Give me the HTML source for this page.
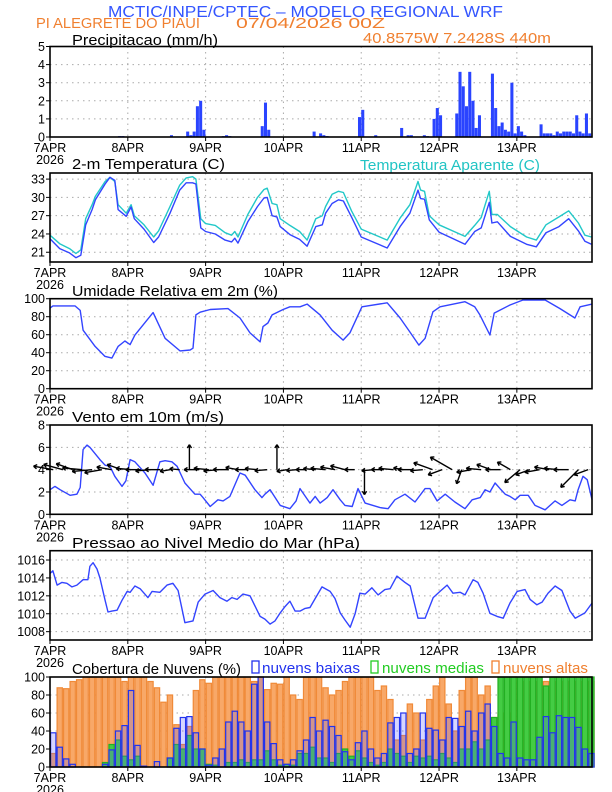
<!DOCTYPE html>
<html><head><meta charset="utf-8"><style>
html,body{margin:0;padding:0;background:#fff;}
svg{display:block;font-family:"Liberation Sans",sans-serif;}
</style></head><body>
<svg id="chart" width="612" height="792" viewBox="0 0 612 792" xmlns="http://www.w3.org/2000/svg">
<text x="108" y="17" font-size="16" fill="#3355ff" textLength="395" lengthAdjust="spacingAndGlyphs">MCTIC/INPE/CPTEC – MODELO REGIONAL WRF</text>
<text x="36" y="28" font-size="15" fill="#f08030" textLength="164" lengthAdjust="spacingAndGlyphs">PI ALEGRETE DO PIAUI</text>
<text x="236" y="28" font-size="15" fill="#f08030" textLength="149" lengthAdjust="spacingAndGlyphs">07/04/2026 00Z</text>
<text x="363" y="43" font-size="15" fill="#f08030" textLength="188" lengthAdjust="spacingAndGlyphs">40.8575W 7.2428S 440m</text>
<g id="plots"></g>
</svg>
<script>
// ---- data ----
const dayLabels = ["7APR","8APR","9APR","10APR","11APR","12APR","13APR"];
const precip = [0,0,0,0,0,0,0,0,0,0,0,0, 0,0,0,0,0,0,0,0,0,0.05,0.05,0, 0,0,0,0,0,0,0,0,0,0,0,0,
0,0.1,0,0,0,0,0.3,0.1,0.3,1.7,2.0,0.4, 0,0,0,0,0,0.05,0.1,0.05,0,0,0,0, 0,0,0,0,0.02,0.6,1.9,0.4,0,0,0,0,
0,0,0,0,0,0,0,0,0,0.3,0,0.2, 0.1,0.05,0,0,0,0,0,0,0,0,0,1.1, 1.5,0,0,0,0.1,0,0,0,0,0,0,0,
0.5,0,0.1,0.1,0,0,0,0.1,0.05,0,1.0,1.6, 1.2,0,0,0,0,1.3,3.6,2.8,1.7,3.6,2.0,0.5, 1.2,0,0,0,3.5,1.6,0.6,0.8,0.4,0.3,3.0,0.2,
0.6,0.3,0.1,0,0,0,0,0.7,0.2,0.2,0.2,0.1, 0.3,0.2,0.3,0.3,0.3,0.2,1.2,0.3,0.2,1.3,0.2,0];
const tempHours = [0,3,6,8,9.5,11,13,14,17,18.5,20,21,23.5,25,26,29,32,33.5,37,40,42,44,45,46.5,48,51,54,56,57,58,61,64,66,67,68.5,70,71,74,77,79.3,82,84,85,87,89,90.5,93,96,104,108,111,113.5,114.3,115.5,117,120,128,131,133,135.5,136.3,138,142,147,150,153,157,160,163,165,167];
const temp2m = [23.2,21.6,20.9,20.1,20.5,25.5,28,29.6,32.2,33.3,32.8,28,26.9,28.4,26.5,24.8,22.6,23.5,27.4,31.2,32.4,32.4,32.2,25,24.4,24,23,22.7,23.3,22.5,26,28.5,29.9,30,27,26.8,25.2,23.9,23.1,22,25.2,25.5,27.4,29,29.6,29.4,26.8,23.5,21.7,25.2,27.4,31.2,29.8,29.7,26.3,24.3,22.3,24.4,25,29.2,25.8,26,23.6,22.3,21.9,24.2,25.2,26.5,24.5,22.8,22.3];
const tempApparent = [23.8,22.4,21.6,20.8,21.4,26.5,28.8,30.2,32.6,33.3,32.6,28.8,27.4,28.8,27,25.5,23.5,24.5,28.5,32,33.2,33.4,33,26.5,25.7,25.4,24.2,23.8,24.4,23.5,27.2,30,31.3,31.5,29,28.8,26.5,25.4,24.4,23,26.5,27,28.5,30.5,31,30.8,27.8,24.8,23,26.6,28.8,32.6,31.2,31,27,25.5,23.6,25.4,26.7,31,27.2,27.2,25.2,23.5,23,25.5,26.8,27.8,25.8,23.8,23.5];
const rhHours = [0,0.9,7.7,9.3,10.2,13.9,16.9,19.1,21,23.1,24.7,26.2,31.8,35.5,40.1,43.2,44.1,45,46.3,49.4,54.9,58.6,61.7,64.8,65.7,67.2,68.5,71.9,74,77.1,79.3,83.3,87,90.4,92.5,96.2,104,108,111,113.8,115.7,118.1,120.3,128,131,132.6,135.7,137,141.9,145.9,152.7,157.3,161.9,163.5,167.2];
const rh = [89.6,92,92,87,65,47,36,34,47,53,49,59.6,84.5,56,42,43,45,82,85,88,89,78.5,62,52,69,73,82,88,91,91,94,82,65,54,62,91,95.5,78.5,63,48.5,56,85.5,91,96.7,91,82,59.7,84,93,98.5,98.5,89,78.5,91,94];
const windHours = [0,1.5,3.1,6.2,8.3,9.3,10.2,11.4,12.3,15.4,17,18.5,20,22.2,23.4,24.7,26.2,29.3,31.8,33.9,35.5,37.6,39.2,41.6,44.7,46.3,47.2,49.4,51.8,53.4,55.5,58.6,60.2,63.2,65.4,66.3,67.9,71,74,75.9,77.1,80.2,81.8,83.3,85.5,87.3,89.5,91,93.2,95,97.2,101.8,104.3,106.4,109.5,112.6,115.7,117.2,119.4,121.9,124.9,128,130.2,132.7,134.2,135.7,137.3,138.8,140.4,141.9,143.5,145,147.5,149.6,152.7,155.8,157.9,160.4,162,162.9,164.4,165.7,167.2];
const windSpeed = [2.2,2.5,2.2,1.7,1.8,2.4,5.8,6.2,6.0,4.9,4.4,4.3,3.4,2.5,3.0,4.9,4.7,3.7,2.6,4.7,4.8,4.7,4.3,2.8,1.8,1.8,1.5,0.7,1.3,1.2,1.6,3.7,3.5,2.2,1.5,1.8,2.2,0.8,0.5,1.2,2.3,1.0,1.6,1.0,1.5,2.2,1.3,0.8,0.7,2.3,1.0,0.6,0.5,1.3,1.8,1.1,2.3,2.3,1.2,1.8,1.1,0.5,1.3,1.5,2.2,2.0,2.8,2.3,1.8,1.6,1.3,1.7,1.7,0.8,0.4,1.2,0.8,1.3,1.2,2.2,3.4,3.1,1.3];
const arrowDir = [170,165,160,175,185,190,170,160,175,180,185,180,190,175,90,180,175,185,180,170,180,175,185,90,190,185,180,175,175,170,165,180,270,185,180,175,170,180,185,160,200,150,250,190,175,160,180,150,220,200,190,170,175,180,225,200];
const arrowSpeed = [4,4,3.5,4,4,3.5,3,3,3,3,3,3,2,2,5,3,3,3,3,2.5,2.5,2.5,2.5,5,2,2,2,2.5,3,3,3,2,5,2.5,2.5,3,2,3,2.5,4,3,5,3,3,3,3,3,3,4,3,3,3,3,3,5,3];
const presHours = [0,0.9,2.2,3.7,5.2,6.8,8.3,10.2,11.7,12.3,13.3,14.5,15.4,17,17.9,19.1,20.7,22.2,23.8,24.7,26.2,27.8,30.2,31.5,33.9,36.1,37.9,39.5,41.6,44.1,45.7,47.8,50.3,52.4,54.6,56.1,57.7,59.5,61.7,64.8,66.3,67.9,69.4,71,72.5,74,75.6,77.1,78.7,80.2,81.8,83.9,86.4,87.9,89.5,91,92.6,94.1,95.6,97.2,99.3,101.2,103.3,104.9,107,109.5,111.1,113.5,115.7,118.2,120.3,122.5,124.3,126.5,128,130.5,132,133.6,135.7,137.9,139.8,141.9,144.1,146.5,148.1,150.2,151.8,153.6,155.8,157.9,160.4,162,165,167.2];
const pressure = [1014.5,1014.8,1013.2,1013.5,1013.4,1013,1013.2,1013.8,1013.8,1015.3,1015.7,1015,1014,1011.5,1010.2,1010.3,1010.4,1011.5,1012.5,1012.4,1013.1,1012.8,1011.8,1012.5,1012.4,1013.2,1013.4,1012.6,1009,1009.2,1011.3,1012.2,1012.6,1011.8,1011.4,1011.8,1011.6,1012.2,1012,1009.7,1009.4,1008.85,1009.2,1010.1,1010.8,1011.4,1010.3,1010.3,1010.6,1010.7,1011.7,1013,1012.5,1011.7,1010.1,1009.3,1008.5,1010,1012.3,1012.2,1012.9,1012.1,1012.7,1012.8,1014.2,1013.5,1013.1,1009.5,1009.5,1011.8,1012.5,1013.2,1012.3,1012.4,1012.1,1013.8,1013.5,1012.3,1010.05,1009.7,1009.5,1011.2,1012.5,1012.7,1011.6,1011,1011.3,1012.3,1013.1,1012.6,1010.3,1009.5,1010.1,1011.2];
// clouds every 2 hours
const cloudLow = [38,22,9,3,0,0,0,0,3,19,40,46,85,24,1,0,6,0,10,43,55,56,38,20,2,10,20,50,62,50,40,92,100,50,26,8,3,8,18,30,55,40,52,45,35,17,8,27,40,20,10,15,49,55,60,15,20,60,43,41,30,55,54,45,62,40,60,70,45,15,10,50,10,8,8,33,56,38,57,55,55,44,20,15];
const cloudMid = [0,0,0,0,0,0,0,0,5,25,30,12,8,12,0,0,0,0,10,25,20,35,20,20,3,2,0,5,5,8,5,8,8,18,8,2,3,2,15,15,22,10,10,5,15,20,12,18,10,5,2,5,20,15,12,5,12,10,12,8,15,10,5,20,20,28,20,30,55,100,100,100,100,100,100,100,90,100,100,100,100,100,100,100];
const cloudHigh = [15,88,87,95,97,100,100,100,100,100,100,95,100,100,100,95,88,72,80,47,25,45,85,97,93,100,100,100,100,100,100,95,100,86,93,92,100,80,75,100,100,100,88,80,85,95,100,100,100,100,85,90,75,30,35,70,60,30,75,90,100,70,40,85,100,100,80,90,55,60,60,100,95,95,95,95,95,95,95,95,95,95,95,95];

// ---- drawing ----
const NS="http://www.w3.org/2000/svg";
const G=document.getElementById('plots');
const X0=50,X1=592,HMAX=(X1-X0)/3.242;
function xs(h){return X0+(h/HMAX)*(X1-X0);}
function mk(tag,at,parent){const e=document.createElementNS(NS,tag);for(const k in at)e.setAttribute(k,at[k]);(parent||G).appendChild(e);return e;}
function yScale(p){return v=>p.bot-(v-p.min)/(p.max-p.min)*(p.bot-p.top);}

const panels={
 precip:{top:46.5,bot:137,min:0,max:5,ticks:[0,1,2,3,4,5],labels:["0","1","2","3","4","5"]},
 temp:{top:173,bot:262,min:19.4,max:34.0,ticks:[21,24,27,30,33],labels:["21","24","27","30","33"]},
 rh:{top:298.7,bot:388.7,min:0,max:100,ticks:[0,20,40,60,80,100],labels:["0","20","40","60","80","100"]},
 wind:{top:425,bot:514.3,min:0,max:8,ticks:[0,2,4,6,8],labels:["0","2","4","6","8"]},
 pres:{top:550.7,bot:640,min:1007.07,max:1017.04,ticks:[1008,1010,1012,1014,1016],labels:["1008","1010","1012","1014","1016"]},
 cloud:{top:677,bot:767,min:0,max:100,ticks:[0,20,40,60,80,100],labels:["0","20","40","60","80","100"]}
};

function frame(name,p){
 const g=mk('g',{});
 
 
 const y=yScale(p);
 p.ticks.forEach((t,i)=>{
  const yy=y(t);
  if(yy>p.top+1&&yy<p.bot-1){const l=mk('line',{x1:X0,x2:X1,y1:yy,y2:yy,stroke:'#aaa','stroke-width':1,'stroke-dasharray':'1.5,4'},g);
   }
  const tx=mk('text',{x:45,y:yy+4.5,'font-size':12.5,'text-anchor':'end',fill:'#000'},g);
  
  tx.textContent=p.labels[i];
  mk('line',{x1:X0-4,x2:X0,y1:yy,y2:yy,stroke:'#000','stroke-width':1},g);
 });
 dayLabels.forEach((d,i)=>{
  const xx=xs(i*24);
  if(i>0){const l=mk('line',{x1:xx,x2:xx,y1:p.top,y2:p.bot,stroke:'#aaa','stroke-width':1,'stroke-dasharray':'1.5,4'},g);
   }
  mk('line',{x1:xx,x2:xx,y1:p.bot,y2:p.bot+4,stroke:'#000','stroke-width':1},g);
  const t=mk('text',{x:xx,y:p.bot+15,'font-size':12.5,'text-anchor':'middle',fill:'#000'},g);
  
  t.textContent=d;
 });
 const yr=mk('text',{x:X0,y:p.bot+27,'font-size':12.5,'text-anchor':'middle',fill:'#000'},g);
 
 yr.textContent='2026';
 return g;
}
function border(name,p){
 const r=mk('rect',{x:X0,y:p.top,width:X1-X0,height:p.bot-p.top,fill:'none',stroke:'#000','stroke-width':1.6});
 
}
function title(txt,x,y,w,color,name){
 const t=mk('text',{x:x,y:y,'font-size':15,fill:color,textLength:w,lengthAdjust:'spacingAndGlyphs'});
 
 t.textContent=txt;return t;
}
function line(hours,vals,p,color,name){
 const y=yScale(p);
 const d=hours.map((h,i)=>(i?'L':'M')+xs(h).toFixed(1)+','+y(vals[i]).toFixed(1)).join('');
 const e=mk('path',{d:d,fill:'none',stroke:color,'stroke-width':1.4,'stroke-linejoin':'round'});
 
}

// Precip
let p=panels.precip;frame('precip',p);
title('Precipitacao (mm/h)',72,45,146,'#000','precip-title');
{const y=yScale(p);precip.forEach((v,h)=>{if(v<=0)return;
 const b=mk('rect',{x:xs(h),y:y(v),width:xs(1)-xs(0)-0.2,height:p.bot-y(v),fill:'#2a44ff'});
 });}
border('precip',p);

// Temperature
p=panels.temp;frame('temp',p);
title('2-m Temperatura (C)',72,169,153,'#000','temp-title');
title('Temperatura Aparente (C)',360,170,180,'#22c4c4','apparent-temp-legend');
line(tempHours,tempApparent,p,'#22c8c8','apparent-temp-line');
line(tempHours,temp2m,p,'#3344ff','temp-line');
border('temp',p);

// RH
p=panels.rh;frame('rh',p);
title('Umidade Relativa em 2m (%)',72,296,206,'#000','rh-title');
line(rhHours,rh,p,'#3344ff','rh-line');
border('rh',p);

// Wind
p=panels.wind;frame('wind',p);
title('Vento em 10m (m/s)',72,422,152,'#000','wind-title');
line(windHours,windSpeed,p,'#3344ff','wind-speed-line');
{const y=yScale(p);const y4=y(4);const n=Math.min(arrowDir.length,arrowSpeed.length);
 for(let i=0;i<n;i++){const h=i*3+1;const a=arrowDir[i]*Math.PI/180;const L=arrowSpeed[i]*5;
  const cx=xs(h),x2=cx+Math.cos(a)*L,y2=y4-Math.sin(a)*L;
  const g=mk('g',{});
  
  mk('line',{x1:cx,y1:y4,x2:x2,y2:y2,stroke:'#000','stroke-width':1.4},g);
  const ah=4;const b1=a+Math.PI*0.82,b2=a-Math.PI*0.82;
  mk('path',{d:`M${x2},${y2}L${x2+Math.cos(b1)*ah},${y2-Math.sin(b1)*ah}M${x2},${y2}L${x2+Math.cos(b2)*ah},${y2-Math.sin(b2)*ah}`,stroke:'#000','stroke-width':1.4,fill:'none'},g);
 }}
border('wind',p);

// Pressure
p=panels.pres;frame('pres',p);
title('Pressao ao Nivel Medio do Mar (hPa)',72,548,288,'#000','pressure-title');
line(presHours,pressure,p,'#3344ff','pressure-line');
border('pres',p);

// Clouds
p=panels.cloud;frame('cloud',p);
title('Cobertura de Nuvens (%)',72,674,169,'#000','cloud-title');
{
 const lg=[['nuvens baixas','#2233ee',252,262,98,'legend-low-clouds'],['nuvens medias','#22cc22',371,382,102,'legend-mid-clouds'],['nuvens altas','#f08030',492,503,85,'legend-high-clouds']];
 lg.forEach(L=>{const r=mk('rect',{x:L[2],y:661,width:7,height:12,fill:'none',stroke:L[1],'stroke-width':1.3});
  
  title(L[0],L[3],673,L[4],L[1],L[5]);});
 const y=yScale(p);const bw=xs(2)-xs(0);
 function bars(arr,fill,stroke,name){arr.forEach((v,i)=>{if(v<=0)return;const h=i*2;
  const b=mk('rect',{x:xs(h)+0.6,y:y(v),width:bw-1.2,height:p.bot-y(v),fill:fill,stroke:stroke,'stroke-width':1.2});
  });}
 bars(cloudHigh,'#f8a868','#f08a38','high-cloud-bar');
 bars(cloudMid,'#44cc44','#22b022','mid-cloud-bar');
 bars(cloudLow,'rgba(90,90,255,0.25)','#2233ee','low-cloud-bar');
}
border('cloud',p);
</script>
</body></html>
